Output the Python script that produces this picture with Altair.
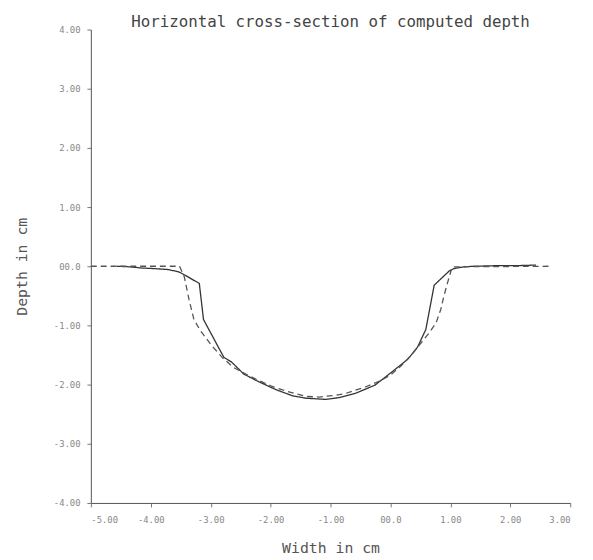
import altair as alt
import pandas as pd

# Computed (solid) cross-section
solid_x = [-4.57, -4.35, -4.15, -3.94, -3.72, -3.55, -3.50, -3.19, -3.12, -2.95, -2.78, -2.65,
           -2.45, -2.24, -2.05, -1.90, -1.63, -1.41, -1.08, -0.86, -0.59, -0.26, 0.07, 0.29,
           0.45, 0.59, 0.73, 0.98, 1.06, 1.22, 1.39, 1.80, 2.10, 2.43]
solid_y = [0.0, -0.01, -0.03, -0.04, -0.055, -0.09, -0.11, -0.29, -0.90, -1.22, -1.54, -1.62,
           -1.82, -1.93, -2.02, -2.09, -2.19, -2.23, -2.25, -2.22, -2.15, -2.01, -1.75, -1.57,
           -1.37, -1.07, -0.32, -0.08, -0.04, -0.01, 0.0, 0.01, 0.01, 0.02]

# True (dashed) cross-section
dash_x = [-5.0, -3.52, -3.44, -3.36, -3.28, -3.17, -3.00, -2.81, -2.62, -2.40, -2.20, -2.00,
          -1.80, -1.60, -1.41, -1.19, -0.92, -0.75, -0.42, -0.20, 0.00, 0.18, 0.35, 0.54,
          0.65, 0.76, 0.84, 0.89, 0.95, 1.03, 2.65]
dash_y = [0.0, 0.0, -0.18, -0.57, -0.90, -1.09, -1.32, -1.54, -1.71, -1.83, -1.93, -2.02,
          -2.09, -2.15, -2.20, -2.21, -2.18, -2.15, -2.04, -1.95, -1.84, -1.68, -1.50, -1.26,
          -1.12, -0.96, -0.73, -0.51, -0.29, -0.01, 0.0]

x_ticks = [-5, -4, -3, -2, -1, 0, 1, 2, 3]
x_labels = ["-5.00", "-4.00", "-3.00", "-2.00", "-1.00", "00.0", "1.00", "2.00", "3.00"]
y_ticks = [-4, -3, -2, -1, 0, 1, 2, 3, 4]
y_labels = ["-4.00", "-3.00", "-2.00", "-1.00", "00.0", "1.00", "2.00", "3.00", "4.00"]

df = pd.concat([
    pd.DataFrame({"x": solid_x, "y": solid_y, "series": "computed", "order": range(len(solid_x))}),
    pd.DataFrame({"x": dash_x, "y": dash_y, "series": "true", "order": range(len(dash_x))}),
])

def label_expr(ticks, labels):
    parts = " : ".join(f"datum.value == {t} ? '{l}'" for t, l in zip(ticks, labels))
    return parts + " : ''"

font = "DejaVu Sans Mono"

chart = alt.Chart(df).mark_line(strokeWidth=1.3).encode(
    x=alt.X("x:Q", scale=alt.Scale(domain=[-5, 3], nice=False, zero=False),
            axis=alt.Axis(title="Width in cm", values=x_ticks,
                          labelExpr=label_expr(x_ticks, x_labels), grid=False,
                          tickSize=4, labelPadding=9, titlePadding=16)),
    y=alt.Y("y:Q", scale=alt.Scale(domain=[-4, 4], nice=False, zero=False),
            axis=alt.Axis(title="Depth in cm", values=y_ticks,
                          labelExpr=label_expr(y_ticks, y_labels), grid=False,
                          tickSize=4, labelPadding=7, titlePadding=24)),
    color=alt.Color("series:N", scale=alt.Scale(domain=["computed", "true"], range=["#333333", "#555555"]), legend=None),
    strokeDash=alt.StrokeDash("series:N", scale=alt.Scale(domain=["computed", "true"], range=[[1, 0], [6, 4]]), legend=None),
    order="order:Q",
    detail="series:N",
).properties(
    width=486, height=480,
    title=alt.TitleParams("Horizontal cross-section of computed depth", font=font, fontSize=16,
                          fontWeight="normal", color="#444444", offset=-4, anchor="middle"),
    autosize=alt.AutoSizeParams(type="none"),
    padding={"left": 84, "top": 18, "right": 15, "bottom": 54},
).configure_view(stroke=None).configure_axis(
    labelFont=font, labelFontSize=9, labelColor="#888888",
    titleFont=font, titleFontSize=15, titleFontWeight="normal", titleColor="#555555",
    domainColor="#555555", tickColor="#777777",
)

chart.save("out.html", embed_options={"renderer": "svg", "actions": False})
